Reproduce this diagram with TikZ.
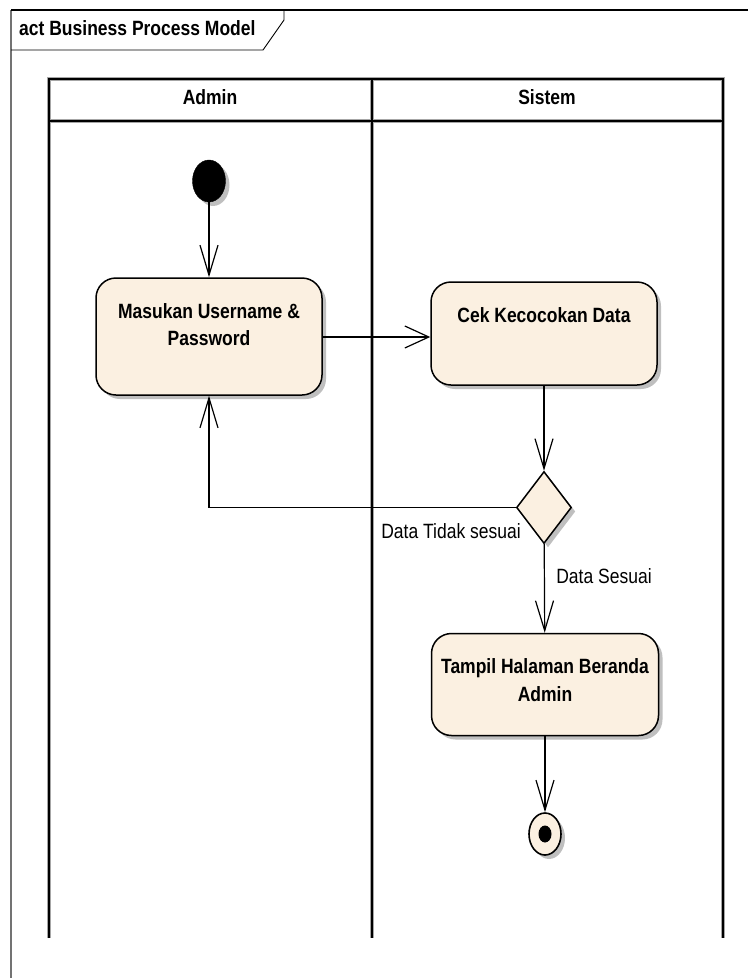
\documentclass[tikz,border=0pt]{standalone}
\usepackage{fontspec}
\usepackage{graphicx}
\setmainfont{Liberation Sans}
\usetikzlibrary{arrows.meta,shapes.geometric,shadows}
\definecolor{boxfill}{RGB}{251,240,225}
\newcommand\vtext[1]{\scalebox{1}[1.18]{\begin{tabular}{@{}c@{}}#1\end{tabular}}}
\newcommand\toptext[1]{\scalebox{1}[1.18]{\begin{tabular}[t]{@{}c@{}}#1\end{tabular}}}
\begin{document}
\begin{tikzpicture}[x=1pt,y=-1pt,
  shad/.style={drop shadow={shadow xshift=4pt,shadow yshift=-4pt,fill=black!25,opacity=1}},
  act/.style={draw=black,line width=1.5pt,fill=boxfill,rounded corners=20pt,inner sep=0pt,
    text height=40pt,font=\bfseries\fontsize{17.5}{23.7}\selectfont,shad},
  lbl/.style={font=\fontsize{17.5}{21}\selectfont,inner sep=0pt},
  hdr/.style={font=\bfseries\fontsize{17.5}{21}\selectfont,inner sep=0pt},
  vline/.style={draw,line width=1.2pt,-{Straight Barb[length=30pt,width=18pt,line width=1.2pt]}},
  hline/.style={draw,line width=1.2pt,-{Straight Barb[length=24pt,width=22pt,line width=1.2pt]}},
  lane/.style={line width=2pt,black},
  laneh/.style={line width=3.2pt,black!35}
]
\useasboundingbox (0,0) rectangle (748,978);
% frame
\draw[black!55,line width=1.6pt] (11,978) -- (11,10);
\draw[black,line width=1.2pt] (11,10) -- (748,10);
\draw[black,line width=0.9pt] (11,50) -- (263,50) -- (284,20) -- (284,10);
\node[hdr,anchor=west] (title) at (19,31) {\vtext{act Business Process Model}};
% swimlanes
\draw[laneh] (49,938) -- (49,79) -- (723,79) -- (723,938);
\draw[laneh] (49,121) -- (723,121);
\draw[laneh] (372,79) -- (372,938);
\draw[lane] (49,938) -- (49,79) -- (723,79) -- (723,938);
\draw[lane] (49,121) -- (723,121);
\draw[lane] (372,79) -- (372,938);
\node[hdr] (admin) at (210,100) {\vtext{Admin}};
\node[hdr] (sistem) at (547,100) {\vtext{Sistem}};
% nodes
\node[ellipse,fill=black,draw=black,minimum width=33pt,minimum height=42pt,inner sep=0pt,shad] (init) at (209,181) {};
\node[act,minimum width=226pt,minimum height=117pt,text depth=77pt] (mas) at (209,336.5) {\toptext{Masukan Username \&\\Password}};
\node[act,minimum width=226pt,minimum height=103pt,text depth=63pt] (cek) at (544,333.5) {\toptext{Cek Kecocokan Data}};
\node[diamond,draw=black,line width=1.5pt,fill=boxfill,minimum width=55pt,minimum height=72pt,inner sep=0pt,shad] (dia) at (544,507.5) {};
\node[act,minimum width=227pt,minimum height=102pt,text depth=62pt] (tam) at (545,684.5) {\toptext{Tampil Halaman Beranda\\Admin}};
\node[ellipse,draw=black,line width=1.6pt,fill=boxfill,minimum width=32pt,minimum height=42pt,inner sep=0pt,shad] (fin) at (545,834) {};
\node[ellipse,fill=black,minimum width=13pt,minimum height=17pt,inner sep=0pt] (findot) at (545,834) {};
% labels
\node[lbl] (ltidak) at (451,534) {\vtext{Data Tidak sesuai}};
\node[lbl] (lsesuai) at (604,579) {\vtext{Data Sesuai}};
% edges
\draw[vline] (init) -- (mas);
\draw[hline] (mas.east |- 0,337) -- (cek.west |- 0,337);
\draw[vline] (cek) -- (dia);
\draw[vline] (dia.west) -| (mas.south);
\draw[vline] (dia) -- (tam);
\draw[vline] (tam) -- (fin);
\end{tikzpicture}
\end{document}
